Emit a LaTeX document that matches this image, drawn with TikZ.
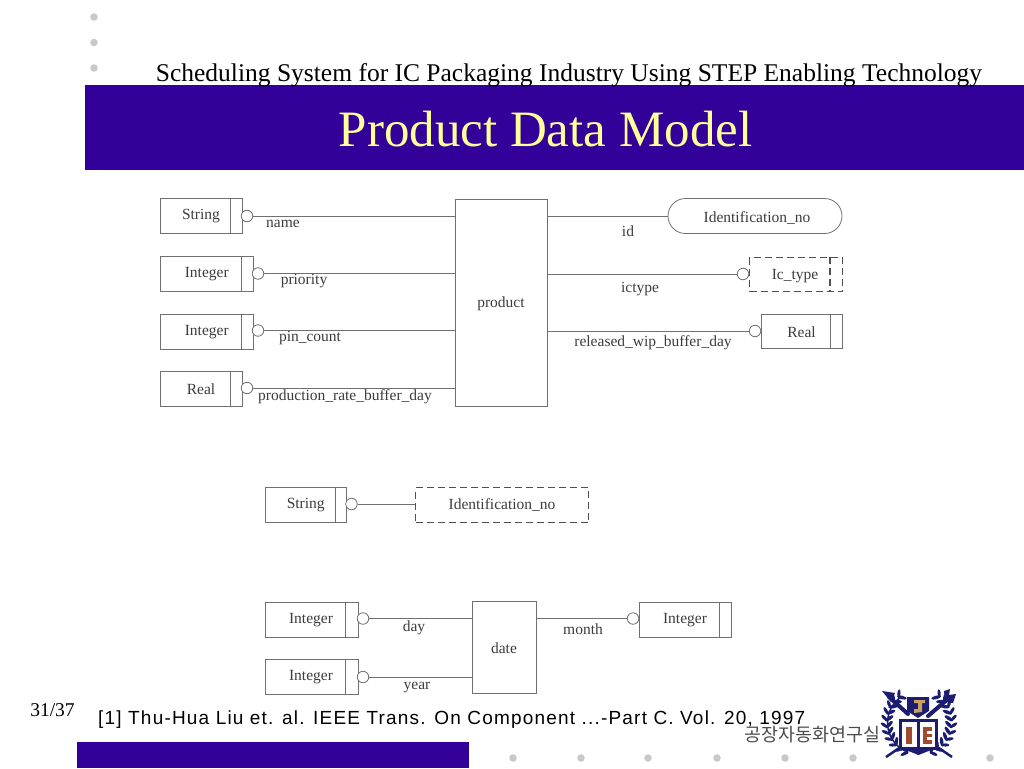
\documentclass[tikz,border=0pt]{standalone}
\usepackage{fontspec}
\setmainfont{Liberation Serif}
\newfontfamily\refsans[LetterSpace=6.3]{Liberation Sans}
\newfontfamily\krfont{Noto Sans CJK KR}
\usetikzlibrary{shapes.misc}
\definecolor{bannerblue}{HTML}{330099}
\definecolor{titleyellow}{HTML}{FFFF99}
\definecolor{dotgray}{HTML}{C8C8C8}
\definecolor{scanline}{HTML}{707070}
\definecolor{scandash}{HTML}{505050}
\definecolor{scantext}{HTML}{3C3C3C}
\definecolor{crest}{HTML}{1C1C70}
\definecolor{crestred}{HTML}{A04A30}
\definecolor{crestgold}{HTML}{C8A060}
\tikzset{
  x=1pt,y=-1pt,
  ent/.style={draw=scanline,line width=0.8pt,rectangle,inner sep=0,anchor=north west},
  dashent/.style={ent,draw=scandash,dash pattern=on 7pt off 4pt,line width=1.3pt},
  link/.style={draw=scanline,line width=0.8pt},
  ring/.style={draw=scanline,line width=0.8pt,fill=white,circle,minimum size=11.5pt,inner sep=0},
  lbl/.style={text=scantext,font=\fontsize{15.5}{15.5}\selectfont,inner sep=0,yshift=-1.5pt},
  dot/.style={fill=dotgray,circle,minimum size=7.5pt,inner sep=0}
}
\newcommand{\entbox}[7]{% name, x, y, w, h, divider x, label
  \node[ent,minimum width=#4pt,minimum height=#5pt] (#1) at (#2,#3) {};
  \draw[link] (#6,#3) -- ++(0,#5);
  \node[lbl] (#1t) at ({(#2+#6)/2+6},{#3+#5/2-0.5}) {#7};
}
\begin{document}
\begin{tikzpicture}
\useasboundingbox (0,0) rectangle (1024,768);
\fill[white] (0,0) rectangle (1024,768);
% template
\foreach \n/\y in {a/17,b/42.5,c/68} \node[dot] (dot\n) at (94,\y) {};
\foreach \n/\x in {a/513,b/581,c/648,d/717,e/785,f/853,g/990} \node[dot] (bot\n) at (\x,758) {};
\fill[bannerblue] (85,85) rectangle (1024,170);
\fill[bannerblue] (77,742) rectangle (469,768);
\node[font=\fontsize{25.5}{25.5}\selectfont,inner sep=0,anchor=base] (sub) at (569,81.5) {Scheduling System for IC Packaging Industry Using STEP Enabling Technology};
\node[font=\fontsize{51}{51}\selectfont,text=titleyellow,inner sep=0,anchor=base] (title) at (545.5,146.5) {Product Data Model};
\node[font=\fontsize{19.5}{19.5}\selectfont,inner sep=0,anchor=base] (page) at (52.5,716) {31/37};
\node[font=\fontsize{19}{19}\refsans,inner sep=0,anchor=base west] (cite) at (98,724) {[1] Thu-Hua Liu et. al. IEEE Trans. On Component ...-Part C. Vol. 20, 1997};
\node[font=\fontsize{18.4}{18.4}\krfont,inner sep=0,text=black!70] (lab) at (812.5,735) {공장자동화연구실};
% product
\node[ent,minimum width=92pt,minimum height=207.5pt] (product) at (455,198.5) {};
\node[lbl] (productt) at (501,302) {product};
\entbox{s1}{160}{198}{82}{35}{230}{String}
\entbox{i1}{160}{256}{93}{35}{241.5}{Integer}
\entbox{i2}{160}{313.5}{93}{35}{241.5}{Integer}
\entbox{r1}{160}{371}{82}{35}{230}{Real}
\foreach \n/\x/\y in {s1/247/216,i1/258/273.5,i2/258/330.5,r1/247/388}{
  \node[ring] (c\n) at (\x,\y) {};
  \draw[link] (c\n.east) -- (c\n.east -| product.west);
}
\node[lbl] (lname) at (283,222) {name};
\node[lbl] (lprio) at (304,280) {priority};
\node[lbl] (lpin) at (310,337) {pin\_count};
\node[lbl] (lprod) at (345,395) {production\_rate\_buffer\_day};
% right
\node[draw=scanline,line width=0.8pt,rounded rectangle,minimum width=174pt,minimum height=35pt,inner sep=0] (idn) at (755,216) {};
\node[lbl] (idnt) at (757,216.5) {Identification\_no};
\draw[link] (idn.west) -- (idn.west -| product.east);
\node[dashent,minimum width=93pt,minimum height=34pt] (ic) at (749,257) {};
\draw[dash pattern=on 7pt off 4pt,draw=scandash,line width=1.3pt] (830,257) -- (830,291);
\node[lbl] (ict) at (795,275) {Ic\_type};
\node[ring] (cic) at (743,274) {};
\draw[link] (cic.west) -- (cic.west -| product.east);
\entbox{r2}{761}{314}{81}{34}{830}{Real}
\node[ring] (cr2) at (755,331) {};
\draw[link] (cr2.west) -- (cr2.west -| product.east);
\node[lbl] (lid) at (628,230) {id};
\node[lbl] (lict) at (640,288) {ictype};
\node[lbl] (lrel) at (653,341) {released\_wip\_buffer\_day};
% identification
\entbox{s2}{264.5}{487}{81.5}{35}{335}{String}
\node[ring] (cs2) at (351.5,504) {};
\node[dashent,minimum width=173pt,minimum height=35pt] (idd) at (415,487) {};
\node[lbl] (iddt) at (502,504) {Identification\_no};
\draw[link] (cs2.east) -- (cs2.east -| idd.west);
% date
\node[ent,minimum width=64pt,minimum height=92pt] (date) at (472,601) {};
\node[lbl] (datet) at (504,647) {date};
\entbox{i3}{264.5}{601.5}{93.5}{35}{345.5}{Integer}
\entbox{i4}{264.5}{659}{93.5}{35}{345.5}{Integer}
\entbox{i5}{639}{601.5}{92}{35}{719}{Integer}
\node[ring] (ci3) at (363,618.5) {};
\node[ring] (ci4) at (363,677) {};
\node[ring] (ci5) at (633,618.5) {};
\draw[link] (ci3.east) -- (ci3.east -| date.west);
\draw[link] (ci4.east) -- (ci4.east -| date.west);
\draw[link] (ci5.west) -- (ci5.west -| date.east);
\node[lbl] (lday) at (414,626) {day};
\node[lbl] (lyear) at (417,686) {year};
\node[lbl] (lmonth) at (583,628) {month};
% crest: wreath
\foreach \a in {125,137,...,245}{
  \fill[crest,shift={({919+30*cos(\a)},{722-30*sin(\a)})},rotate=\a+40] (0,0) ellipse (5pt and 1.8pt);
  \fill[crest,shift={({919+35*cos(\a)},{722-35*sin(\a)})},rotate=\a-40] (0,0) ellipse (4pt and 1.6pt);
  \fill[crest,shift={({919-30*cos(\a)},{722-30*sin(\a)})},rotate=-\a-40] (0,0) ellipse (5pt and 1.8pt);
  \fill[crest,shift={({919-35*cos(\a)},{722-35*sin(\a)})},rotate=-\a+40] (0,0) ellipse (4pt and 1.6pt);
}
\draw[crest,line width=1.5pt] (901,697) arc[start angle=125,end angle=245,radius=31.5pt];
% crest: crossing spear and wrench
\draw[crest,line width=4pt,line cap=round] (889,697) -- (908,714);
\draw[crest,line width=4pt,line cap=round] (949,698) -- (928,716);
\fill[crest] (882,691) -- (895,693) -- (891,702) -- cycle;
\fill[crest] (944,691) -- (950,689) -- (949,695) -- (956,694) -- (953,703) -- (945,702) -- cycle;
\draw[crest,line width=2.5pt] (886,757) -- (905,744) (952,757) -- (933,744);
% crest: shield with letter
\fill[crest] (907,697) -- (929,697) -- (929,711) -- (918,718) -- (907,711) -- cycle;
\fill[crestgold] (914,700) -- (925,700) -- (925,703) -- (922,703) -- (922,712) -- (914,713) -- (914,709) -- (918,709) -- (918,703) -- (914,703) -- cycle;
% crest: book
\fill[crest] (899,719) rectangle (938,750);
\fill[crest] (906,750) -- (931,750) -- (918.5,755) -- cycle;
\fill[white] (902,722) rectangle (935,747);
\fill[crest] (917,721) rectangle (920,749);
\fill[crestred] (906,727) rectangle (912,744);
\fill[crestred] (923,727) rectangle (932,744);
\fill[white] (927,731) rectangle (932,734);
\fill[white] (927,737) rectangle (932,740);
\end{tikzpicture}
\end{document}
